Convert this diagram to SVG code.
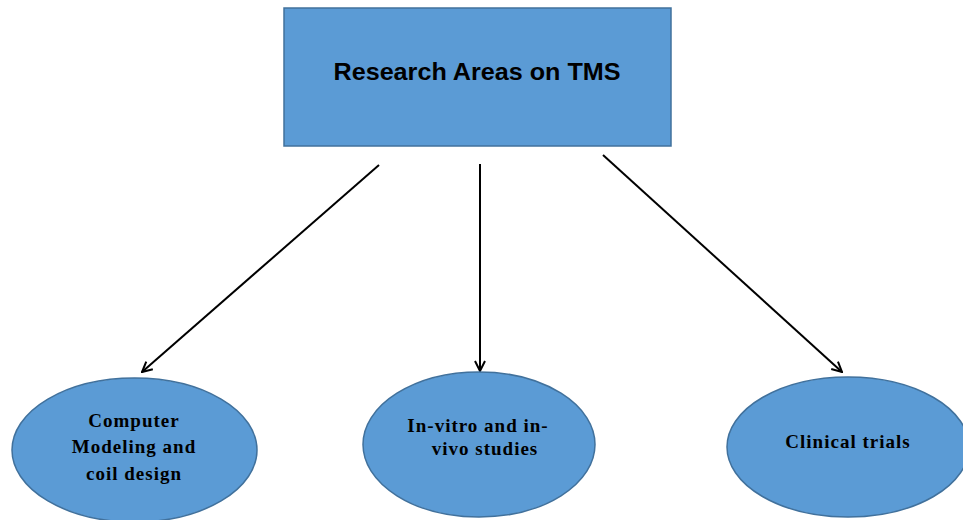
<svg xmlns="http://www.w3.org/2000/svg" width="963" height="520" viewBox="0 0 963 520">
<style>
.box{fill:#5B9BD5;stroke:#41719C;stroke-width:1.5}
.title{font-family:"Liberation Sans",Arial,sans-serif;font-weight:bold;font-size:24px;fill:#000;text-anchor:middle}
.lbl{font-family:"Liberation Serif","Times New Roman",serif;font-weight:bold;font-size:19px;fill:#000;text-anchor:middle;letter-spacing:1px}
.conn{stroke:#000;stroke-width:2;fill:none;marker-end:url(#arr)}
</style>
<defs>
<marker id="arr" viewBox="0 0 12 12" refX="11" refY="6" markerWidth="12" markerHeight="12" markerUnits="userSpaceOnUse" orient="auto">
<polyline points="1,1 11,6 1,11" fill="none" stroke="#000" stroke-width="2"/>
</marker>
</defs>
<g id="connectors">
<line class="conn" x1="379" y1="165" x2="142" y2="372"/>
<line class="conn" x1="480" y1="164" x2="480" y2="371"/>
<line class="conn" x1="603" y1="155" x2="842" y2="372"/>
</g>
<g id="root">
<rect class="box" x="284" y="8" width="387" height="138"/>
<text class="title" x="477" y="80" textLength="287" lengthAdjust="spacingAndGlyphs">Research Areas on TMS</text>
</g>
<g id="computer-modeling">
<ellipse class="box" cx="134.5" cy="450" rx="122.5" ry="72"/>
<text class="lbl" x="134" y="427">Computer</text>
<text class="lbl" x="134" y="453">Modeling and</text>
<text class="lbl" x="134" y="480">coil design</text>
</g>
<g id="in-vitro">
<ellipse class="box" cx="479" cy="444.5" rx="116" ry="72.5"/>
<text class="lbl" x="478" y="432">In-vitro and in-</text>
<text class="lbl" x="485" y="455">vivo studies</text>
</g>
<g id="clinical">
<ellipse class="box" cx="848" cy="447" rx="121" ry="70"/>
<text class="lbl" x="848" y="448">Clinical trials</text>
</g>
</svg>
